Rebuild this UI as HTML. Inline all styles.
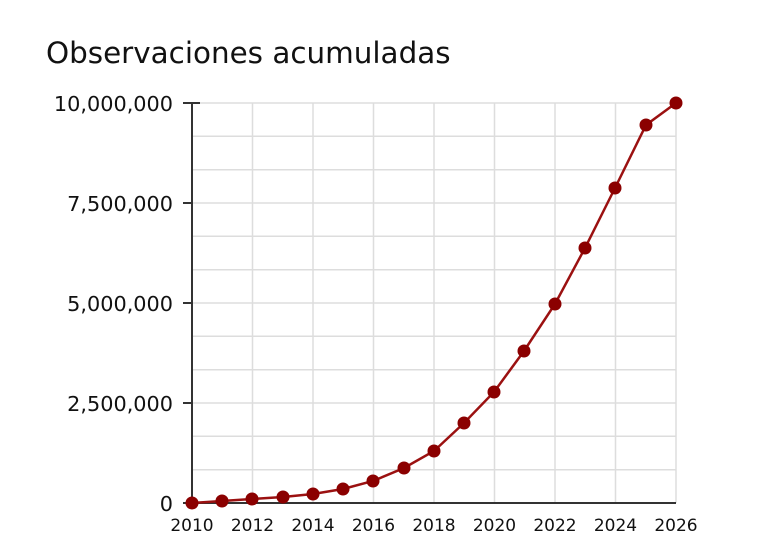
<!DOCTYPE html>
<html><head><meta charset="utf-8"><style>body{margin:0;background:#fff}</style></head>
<body>
<svg width="766" height="540" xmlns="http://www.w3.org/2000/svg" font-family="DejaVu Sans, Liberation Sans, sans-serif">
<rect width="766" height="540" fill="#fff"/>
<text x="46" y="63" font-size="29.4" fill="#111">Observaciones acumuladas</text>
<g stroke="#ddd" stroke-width="1.5">
<line x1="252.5" y1="103" x2="252.5" y2="503"/><line x1="313" y1="103" x2="313" y2="503"/>
<line x1="373.5" y1="103" x2="373.5" y2="503"/><line x1="434" y1="103" x2="434" y2="503"/>
<line x1="494.5" y1="103" x2="494.5" y2="503"/><line x1="555" y1="103" x2="555" y2="503"/>
<line x1="615.5" y1="103" x2="615.5" y2="503"/><line x1="676" y1="103" x2="676" y2="503"/>
<line x1="192" y1="103" x2="676" y2="103"/><line x1="192" y1="136.3" x2="676" y2="136.3"/>
<line x1="192" y1="169.7" x2="676" y2="169.7"/><line x1="192" y1="203" x2="676" y2="203"/>
<line x1="192" y1="236.3" x2="676" y2="236.3"/><line x1="192" y1="269.7" x2="676" y2="269.7"/>
<line x1="192" y1="303" x2="676" y2="303"/><line x1="192" y1="336.3" x2="676" y2="336.3"/>
<line x1="192" y1="369.7" x2="676" y2="369.7"/><line x1="192" y1="403" x2="676" y2="403"/>
<line x1="192" y1="436.3" x2="676" y2="436.3"/><line x1="192" y1="469.7" x2="676" y2="469.7"/>
</g>
<g stroke="#333" stroke-width="2">
<line x1="192" y1="103" x2="192" y2="503"/><line x1="183" y1="503" x2="676" y2="503"/>
<line x1="183" y1="103" x2="200" y2="103"/><line x1="183" y1="203" x2="192" y2="203"/>
<line x1="183" y1="303" x2="192" y2="303"/><line x1="183" y1="403" x2="192" y2="403"/>
</g>
<g font-size="20.8" fill="#111" text-anchor="end">
<text x="173" y="111">10,000,000</text><text x="173" y="211">7,500,000</text>
<text x="173" y="311">5,000,000</text><text x="173" y="411">2,500,000</text><text x="173" y="511">0</text>
</g>
<g font-size="17" fill="#111" text-anchor="middle">
<text x="192" y="531">2010</text><text x="252.5" y="531">2012</text><text x="313" y="531">2014</text>
<text x="373.5" y="531">2016</text><text x="434" y="531">2018</text><text x="494.5" y="531">2020</text>
<text x="555" y="531">2022</text><text x="615.5" y="531">2024</text><text x="676" y="531">2026</text>
</g>
<polyline fill="none" stroke="#9b1111" stroke-width="2.5" points="192,503 222,501 252,499 283,497 313,494 343,489 373,481 404,468 434,451 464,423 494,392 524,351 555,304 585,248 615,188 646,125 676,103"/>
<g fill="#8b0000">
<circle cx="192" cy="503" r="6.5"/><circle cx="222" cy="501" r="6.5"/><circle cx="252" cy="499" r="6.5"/>
<circle cx="283" cy="497" r="6.5"/><circle cx="313" cy="494" r="6.5"/><circle cx="343" cy="489" r="6.5"/>
<circle cx="373" cy="481" r="6.5"/><circle cx="404" cy="468" r="6.5"/><circle cx="434" cy="451" r="6.5"/>
<circle cx="464" cy="423" r="6.5"/><circle cx="494" cy="392" r="6.5"/><circle cx="524" cy="351" r="6.5"/>
<circle cx="555" cy="304" r="6.5"/><circle cx="585" cy="248" r="6.5"/><circle cx="615" cy="188" r="6.5"/>
<circle cx="646" cy="125" r="6.5"/><circle cx="676" cy="103" r="6.5"/>
</g>
</svg>
</body></html>
